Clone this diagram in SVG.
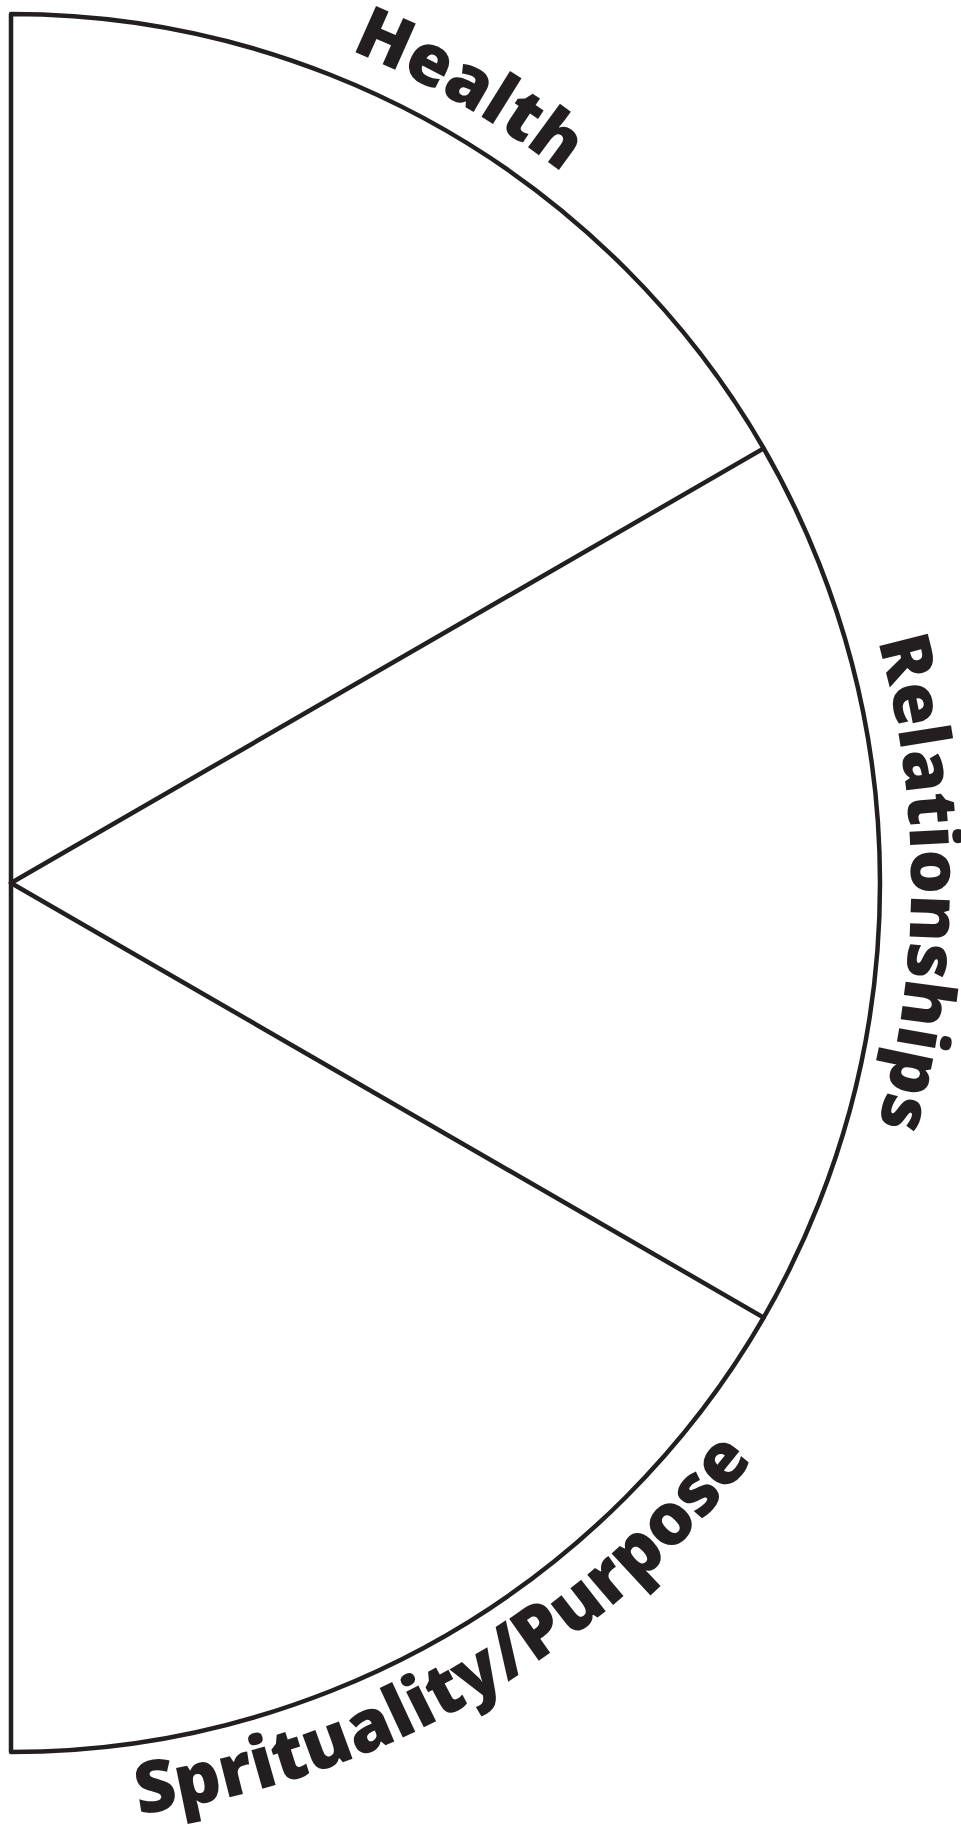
<svg xmlns="http://www.w3.org/2000/svg" width="961" height="1830" viewBox="0 0 961 1830">
  <style>
    .line { fill: none; stroke: #231f20; stroke-width: 4.5; stroke-linejoin: round; stroke-linecap: round; }
    .label { font-family: "Open Sans", "Liberation Sans", sans-serif; font-weight: 800; fill: #231f20; }
    .health { font-size: 71px; }
    .rel { font-size: 70px; }
    .spirit { font-size: 72px; }
  </style>
  <defs>
    <path id="pathHealth" d="M -438.5 104.4 A 899 899 0 0 1 910 883"/>
    <path id="pathRel" d="M 461 103.6 A 900 900 0 0 1 461 1662.4"/>
    <path id="pathSpirit" d="M -459 1697 A 940 940 0 0 0 951 883"/>
  </defs>
  <rect x="0" y="0" width="961" height="1830" fill="#ffffff"/>
  <g id="wheel">
    <path class="line" d="M 11 14 A 869 869 0 0 1 11 1752 Z"/>
  </g>
  <g id="connectors">
    <line class="line" x1="11" y1="883" x2="763.6" y2="448.5"/>
    <line class="line" x1="11" y1="883" x2="763.6" y2="1317.5"/>
  </g>
  <g id="health">
    <text class="label health"><textPath href="#pathHealth" startOffset="50%" text-anchor="middle">Health</textPath></text>
  </g>
  <g id="relationships">
    <text class="label rel"><textPath href="#pathRel" startOffset="50%" text-anchor="middle">Relationships</textPath></text>
  </g>
  <g id="spirituality">
    <text class="label spirit"><textPath href="#pathSpirit" startOffset="50%" text-anchor="middle">Sprituality/Purpose</textPath></text>
  </g>
</svg>
